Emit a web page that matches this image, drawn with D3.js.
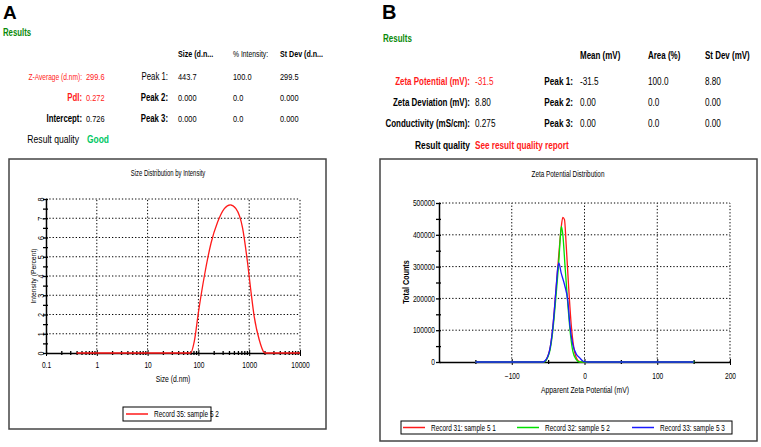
<!DOCTYPE html>
<html>
<head>
<meta charset="utf-8">
<script src="https://cdn.jsdelivr.net/npm/d3@7"></script>
<style>
  body { margin: 0; background: #fff; }
  svg { display: block; font-family: "Liberation Sans", Arial, sans-serif; }
</style>
</head>
<body>
<div id="chart"></div>
<script>
// ---- panel A: size distribution ----
const sizeNm       = [0.4, 70, 83, 100, 131, 177, 239, 324, 424, 548, 740, 927, 1071, 1253, 1570, 1967, 2100, 10000];
const intensityPct = [0,   0,  0.6, 2.1, 4.0, 5.7, 6.8, 7.5, 7.7, 7.5, 6.5, 4.7, 3.3,  1.9,  0.7,  0.03, 0,    0];
const sizeTicks = [0.1, 1, 10, 100, 1000, 10000];
const intensityTicks = [0, 1, 2, 3, 4, 5, 6, 7, 8];

const sizeLabels  = ["Z-Average (d.nm):", "PdI:", "Intercept:"];
const sizeValues  = ["299.6", "0.272", "0.726"];
const sizeHeaders = ["Size (d.n...", "% Intensity:", "St Dev (d.n..."];
const sizePeaks   = [["443.7", "100.0", "299.5"], ["0.000", "0.0", "0.000"], ["0.000", "0.0", "0.000"]];

// ---- panel B: zeta potential distribution ----
const zeta31 = [-150, -56, -48.2, -43.6, -39.0, -35.3, -32.1, -29.8, -27.5, -25.2, -22.0, -18.3, -14.7, -9.2, -4.6, 150];
const count31 = [0, 0, 34500, 107700, 233300, 337900, 421500, 455000, 447700, 369200, 243700, 118200, 44900, 5200, 0, 0];
const zeta32 = [-150, -56, -48.2, -43.6, -39.0, -35.3, -33.0, -31.7, -29.8, -26.6, -22.9, -19.3, -16.1, -11.5, -6.9, 151];
const count32 = [0, 0, 30000, 97000, 212000, 317000, 400600, 426800, 400600, 296000, 181000, 86800, 34500, 8400, 0, 0];
const zeta33 = [-150, -57, -54.6, -48.2, -43.6, -39.0, -36.7, -35.3, -32.1, -27.5, -22.9, -19.7, -16.1, -11.5, -6.9, -2.3, 0, 5, 150];
const count33 = [0, 0, 3100, 34500, 107700, 233300, 296000, 311700, 280300, 243700, 191400, 107700, 55400, 26200, 13600, 3100, 1000, 0, 0];
const zetaTicks = [-100, 0, 100, 200];
const countTicks = [0, 100000, 200000, 300000, 400000, 500000];
const zetaRecords = ["Record 31: sample 5 1", "Record 32: sample 5 2", "Record 33: sample 5 3"];

const zetaLabels  = ["Zeta Potential (mV):", "Zeta Deviation (mV):", "Conductivity (mS/cm):"];
const zetaValues  = ["-31.5", "8.80", "0.275"];
const zetaHeaders = ["Mean (mV)", "Area (%)", "St Dev (mV)"];
const zetaPeaks   = [["-31.5", "100.0", "8.80"], ["0.00", "0.0", "0.00"], ["0.00", "0.0", "0.00"]];

const RED = "#ff1a1a", DKGREEN = "#0a8a0a", GOOD = "#00c864";
const GREEN = "#00e000", BLUE = "#1a1aff";

const svg = d3.select("#chart").append("svg")
    .attr("width", 761)
    .attr("height", 447)
    .attr("viewBox", [0, 0, 761, 447]);

// text helper: the original uses a narrow font, so squeeze each string horizontally
function txt(g, x, y, s, o = {}) {
  const k = o.k === undefined ? 0.8 : o.k;
  const base = o.transform || `translate(${x},${y})`;
  return g.append("text")
      .attr("transform", `${base} scale(${k},1)`)
      .attr("font-size", o.size || 10)
      .attr("font-weight", o.weight || "normal")
      .attr("fill", o.fill || "#000")
      .attr("text-anchor", o.anchor || "start")
      .text(s);
}

// ===================== header A =====================
txt(svg, 3, 19, "A", {size: 19, weight: "bold", k: 1});
txt(svg, 3, 36, "Results", {size: 10, weight: "bold", fill: DKGREEN, k: 0.78});
txt(svg, 178, 57, sizeHeaders[0], {size: 9.5, weight: "bold", k: 0.75});
txt(svg, 233, 57, sizeHeaders[1], {size: 8.5, k: 0.8});
txt(svg, 280, 57, sizeHeaders[2], {size: 9.5, weight: "bold", k: 0.75});

const rowA = [80, 101, 122];
sizeLabels.forEach((l, i) => {
  txt(svg, 82, rowA[i], l, {
    size: i === 0 ? 8.5 : 10, weight: i === 0 ? "normal" : "bold",
    fill: i < 2 ? RED : "#000", anchor: "end", k: 0.78
  });
  txt(svg, 86, rowA[i], sizeValues[i], {size: 9.5, fill: i < 2 ? RED : "#000", k: 0.78});
  txt(svg, 168, rowA[i], "Peak " + (i + 1) + ":", {size: 10, weight: i === 0 ? "normal" : "bold", anchor: "end", k: 0.78});
  [178, 233, 280].forEach((cx, j) => txt(svg, cx, rowA[i], sizePeaks[i][j], {size: 9.5, k: 0.78}));
});
txt(svg, 79, 143, "Result quality", {size: 10.5, anchor: "end", k: 0.82});
txt(svg, 87, 143, "Good", {size: 10.5, weight: "bold", fill: GOOD, k: 0.8});

// ===================== header B =====================
txt(svg, 382, 19, "B", {size: 20, weight: "bold", k: 1});
txt(svg, 383, 42, "Results", {size: 10, weight: "bold", fill: DKGREEN, k: 0.8});
[580, 648, 705].forEach((cx, j) => txt(svg, cx, 59, zetaHeaders[j], {size: 10.5, weight: "bold", k: 0.76}));

const rowB = [85, 106, 127];
zetaLabels.forEach((l, i) => {
  txt(svg, 470, rowB[i], l, {size: 10.5, weight: "bold", fill: i === 0 ? RED : "#000", anchor: "end", k: 0.76});
  txt(svg, 475, rowB[i], zetaValues[i], {size: 10.5, fill: i === 0 ? RED : "#000", k: 0.78});
  txt(svg, 573, rowB[i], "Peak " + (i + 1) + ":", {size: 10.5, weight: "bold", anchor: "end", k: 0.78});
  [580, 648, 705].forEach((cx, j) => txt(svg, cx, rowB[i], zetaPeaks[i][j], {size: 10.5, k: 0.78}));
});
txt(svg, 470, 149, "Result quality", {size: 10.5, weight: "bold", anchor: "end", k: 0.8});
txt(svg, 475, 149, "See result quality report", {size: 10.5, weight: "bold", fill: RED, k: 0.78});

// ===================== shared drawing bits =====================
function frame(b) {
  svg.append("rect")
      .attr("x", b.x).attr("y", b.y).attr("width", b.w).attr("height", b.h)
      .attr("fill", "#fff").attr("stroke", "#444").attr("stroke-width", 1.5);
}

function grid(g, x, y, xt, yt) {
  const [x0, x1] = x.range(), [y0, y1] = y.range();
  g.append("g").selectAll("line").data(xt).join("line")
      .attr("x1", d => x(d)).attr("x2", d => x(d)).attr("y1", y0).attr("y2", y1);
  g.append("g").selectAll("line").data(yt).join("line")
      .attr("x1", x0).attr("x2", x1).attr("y1", d => y(d)).attr("y2", d => y(d));
  g.selectAll("line")
      .attr("stroke", "#000").attr("stroke-width", 1).attr("stroke-dasharray", "1.3,2");
}

function legend(b, items) {
  const g = svg.append("g");
  g.append("rect").attr("x", b.x).attr("y", b.y).attr("width", b.w).attr("height", b.h)
      .attr("fill", "#fff").attr("stroke", "#000").attr("stroke-width", 1);
  items.forEach(it => {
    g.append("line").attr("x1", it.x).attr("x2", it.x + 22)
        .attr("y1", b.y + b.h / 2).attr("y2", b.y + b.h / 2)
        .attr("stroke", it.color).attr("stroke-width", 1.5);
    txt(g, it.x + 28, b.y + b.h / 2 + 3, it.label, {size: 8.5, k: 0.76});
  });
}

// squeeze axis tick labels the same way
const squeeze = (k, dx = 0) => g => g.selectAll(".tick text")
    .attr("font-size", 8.5).attr("font-family", null)
    .attr("transform", `translate(${dx},0) scale(${k},1)`);

// ===================== chart A =====================
frame({x: 9, y: 159, w: 317, h: 270});
txt(svg, 168, 176, "Size Distribution by Intensity", {size: 8.5, anchor: "middle", k: 0.7});

const xA = d3.scaleLog().domain([0.1, 10000]).range([46, 300]);
const yA = d3.scaleLinear().domain([0, 8]).range([353, 199]);

grid(svg.append("g"), xA, yA, sizeTicks.slice(1), intensityTicks.slice(1));

// minor ticks on the x axis
const minorA = [];
sizeTicks.slice(0, -1).forEach(d => { for (let m = 2; m < 10; m++) minorA.push(d * m); });
svg.append("g").attr("transform", "translate(0,353)")
    .call(d3.axisBottom(xA).tickValues(minorA).tickSize(2).tickFormat(""))
    .call(g => g.select(".domain").remove())
    .call(g => g.selectAll(".tick line").attr("y1", -2).attr("stroke-width", 1.3));

svg.append("g").attr("transform", "translate(0,353)")
    .call(d3.axisBottom(xA).tickValues(sizeTicks).tickSize(3).tickPadding(6).tickSizeOuter(0)
      .tickFormat(d => d3.format("~g")(d)))
    .call(g => g.select(".domain").attr("stroke-width", 1.5))
    .call(g => g.selectAll(".tick line").attr("y1", -3))
    .call(squeeze(0.78));

svg.append("g").attr("transform", "translate(46,0)")
    .call(d3.axisLeft(yA).tickValues(d3.range(0, 8.5, 0.5)).tickSize(3).tickSizeOuter(0)
      .tickFormat(d => Number.isInteger(d) ? d : ""))
    .call(g => g.select(".domain").attr("stroke-width", 1.5))
    .call(g => g.selectAll(".tick line").attr("x1", 2).attr("stroke-width", 1.3))
    .call(g => g.selectAll("text").attr("font-size", 8.5).attr("font-family", null)
      .attr("x", 0).attr("dy", 0).attr("text-anchor", "middle")
      .attr("transform", "translate(-2,0) rotate(-90) scale(0.85,1)"));

txt(svg, 173, 382, "Size (d.nm)", {size: 8.5, anchor: "middle", k: 0.8});
txt(svg, 0, 0, "Intensity (Percent)", {size: 8, anchor: "middle", k: 0.85, transform: "translate(36,276) rotate(-90)"});

svg.append("path")
    .datum(sizeNm.map((s, i) => [s, intensityPct[i]]))
    .attr("fill", "none")
    .attr("stroke", RED)
    .attr("stroke-width", 1.3)
    .attr("d", d3.line().x(d => xA(d[0])).y(d => yA(d[1])).curve(d3.curveMonotoneX));

legend({x: 123, y: 407, w: 88, h: 14}, [{x: 126, color: RED, label: "Record 35: sample 5 2"}]);

// ===================== chart B =====================
frame({x: 380, y: 159, w: 377, h: 282});
txt(svg, 568, 177, "Zeta Potential Distribution", {size: 8.5, anchor: "middle", k: 0.75});

const xB = d3.scaleLinear().domain([-200, 200]).range([439, 730]);
const yB = d3.scaleLinear().domain([0, 500000]).range([362, 203]);

grid(svg.append("g"), xB, yB, zetaTicks, countTicks.slice(1));

svg.append("g").attr("transform", "translate(0,362)")
    .call(d3.axisBottom(xB).tickValues([-150, -50, 50, 150]).tickSize(2).tickFormat(""))
    .call(g => g.select(".domain").remove())
    .call(g => g.selectAll(".tick line").attr("y1", -2).attr("stroke-width", 1.3));

svg.append("g").attr("transform", "translate(0,362)")
    .call(d3.axisBottom(xB).tickValues(zetaTicks).tickSize(3).tickPadding(8).tickSizeOuter(0))
    .call(g => g.select(".domain").attr("stroke-width", 1.5))
    .call(g => g.selectAll(".tick line").attr("y1", -3))
    .call(squeeze(0.78));

svg.append("g").attr("transform", "translate(439,0)")
    .call(d3.axisLeft(yB).tickValues(d3.range(0, 500001, 50000)).tickSize(3).tickSizeOuter(0)
      .tickFormat(d => countTicks.includes(d) ? d : ""))
    .call(g => g.select(".domain").attr("stroke-width", 1.5))
    .call(g => g.selectAll(".tick line").attr("x1", 2).attr("stroke-width", 1.3))
    .call(squeeze(0.78, -4))
    .call(g => g.selectAll(".tick text").attr("x", 0));

txt(svg, 585, 393, "Apparent Zeta Potential (mV)", {size: 8.5, anchor: "middle", k: 0.8});
txt(svg, 0, 0, "Total Counts", {size: 8.5, weight: "bold", anchor: "middle", k: 0.85, transform: "translate(409,282) rotate(-90)"});

const zetaLine = d3.line().x(d => xB(d[0])).y(d => yB(d[1])).curve(d3.curveMonotoneX);
[[zeta31, count31, RED], [zeta32, count32, GREEN], [zeta33, count33, BLUE]].forEach(([xs, ys, c]) => {
  svg.append("path")
      .datum(xs.map((v, i) => [v, ys[i]]))
      .attr("fill", "none")
      .attr("stroke", c)
      .attr("stroke-width", 1.3)
      .attr("d", zetaLine);
});

legend({x: 401, y: 421, w: 331, h: 13}, [
  {x: 403, color: RED, label: zetaRecords[0]},
  {x: 517, color: GREEN, label: zetaRecords[1]},
  {x: 632, color: BLUE, label: zetaRecords[2]}
]);
</script>
</body>
</html>
